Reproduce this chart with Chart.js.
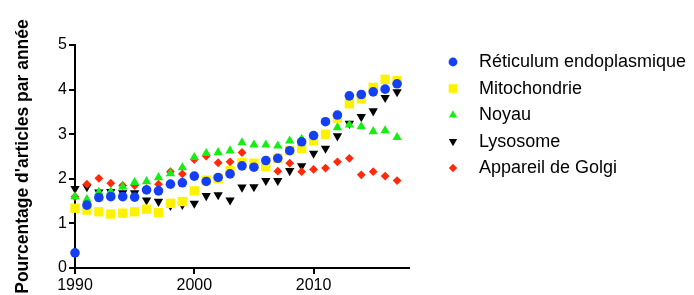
<!DOCTYPE html>
<html><head><meta charset="utf-8">
<script src="https://cdn.jsdelivr.net/npm/chart.js@4"></script>
<style>html,body{margin:0;padding:0;background:#fff;}canvas{display:block;}</style>
</head><body>
<canvas id="c" width="694" height="295"></canvas>
<script>
const years = [1990,1991,1992,1993,1994,1995,1996,1997,1998,1999,2000,2001,2002,2003,2004,2005,2006,2007,2008,2009,2010,2011,2012,2013,2014,2015,2016,2017];
const reticulum = [0.34,1.41,1.58,1.60,1.60,1.59,1.75,1.73,1.88,1.91,2.06,1.94,2.03,2.11,2.29,2.26,2.41,2.46,2.63,2.83,2.97,3.28,3.43,3.86,3.89,3.95,4.01,4.13];
const mitochondrie = [1.34,1.30,1.26,1.21,1.23,1.26,1.32,1.24,1.45,1.49,1.73,1.97,2.00,2.18,2.36,2.35,2.27,2.46,2.64,2.68,2.85,3.00,3.36,3.68,3.79,4.05,4.23,4.20];
const noyau = [1.60,1.54,1.70,1.71,1.82,1.92,1.94,2.03,2.12,2.25,2.48,2.57,2.59,2.63,2.81,2.76,2.76,2.74,2.85,2.89,2.95,2.97,3.15,3.21,3.17,3.06,3.08,2.93];
const lysosome = [1.78,1.82,1.70,1.71,1.68,1.68,1.52,1.49,1.40,1.42,1.45,1.62,1.64,1.52,1.81,1.82,1.96,1.96,2.18,2.29,2.57,2.68,2.96,3.24,3.39,3.52,3.82,3.95];
const golgi = [1.60,1.88,2.01,1.90,1.85,1.85,1.78,1.88,2.16,2.11,2.43,2.51,2.36,2.38,2.59,2.33,2.30,2.17,2.35,2.16,2.21,2.24,2.38,2.46,2.09,2.16,2.06,1.96];
const seriesNames = ["Réticulum endoplasmique","Mitochondrie","Noyau","Lysosome","Appareil de Golgi"];
const xTickValues = [1990,2000,2010];
const yTickValues = [0,1,2,3,4,5];
const yTitle = "Pourcentage d'articles par année";

const FONT = '"Liberation Sans", Arial, Helvetica, sans-serif';
const pts = arr => years.map((y,i)=>({x:y, y:arr[i]}));

const styles = [
  {color:'#1440f5', pointStyle:'circle', radius:4.8, rotation:0, order:0, legendR:4.4},
  {color:'#fff200', pointStyle:'rect', radius:6.6, rotation:0, order:1, legendR:6.1},
  {color:'#14ee14', pointStyle:'triangle', radius:5.4, rotation:0, order:2, legendR:4.8},
  {color:'#000000', pointStyle:'triangle', radius:5.4, rotation:180, order:4, legendR:4.8},
  {color:'#ff2a0a', pointStyle:'rectRot', radius:4.4, rotation:0, order:3, legendR:4.2}
];
const seriesData = [reticulum, mitochondrie, noyau, lysosome, golgi];

const datasets = seriesNames.map((name,i)=>({
  label: name,
  data: pts(seriesData[i]),
  showLine: false,
  backgroundColor: styles[i].color,
  borderColor: styles[i].color,
  pointBackgroundColor: styles[i].color,
  pointBorderColor: styles[i].color,
  pointBorderWidth: 0,
  pointStyle: styles[i].pointStyle,
  pointRotation: styles[i].rotation,
  pointRadius: styles[i].radius,
  pointHoverRadius: styles[i].radius,
  order: styles[i].order,
  clip: false
}));

const sideLegend = {
  id: 'sideLegend',
  afterDraw(chart) {
    const ctx = chart.ctx;
    ctx.save();
    chart.data.datasets.forEach((ds,i)=>{
      const y = 62 + i*26.5;
      ctx.fillStyle = ds.pointBackgroundColor;
      ctx.strokeStyle = ds.pointBackgroundColor;
      Chart.helpers.drawPoint(ctx, {pointStyle: ds.pointStyle, rotation: ds.pointRotation, radius: styles[i].legendR, borderWidth: 0}, 453, y);
      ctx.fillStyle = '#000';
      ctx.font = '18px ' + FONT;
      ctx.textBaseline = 'middle';
      ctx.textAlign = 'left';
      ctx.fillText(ds.label, 479, y + 0.5);
    });
    ctx.restore();
  }
};

new Chart(document.getElementById('c'), {
  type: 'scatter',
  data: { datasets },
  options: {
    responsive: false,
    animation: false,
    devicePixelRatio: 1,
    layout: { padding: { top: 45, right: 285, left: 0, bottom: 0 } },
    plugins: { legend: { display: false }, tooltip: { enabled: false } },
    scales: {
      x: {
        type: 'linear', min: 1990, max: 2018,
        afterBuildTicks(scale){ scale.ticks = xTickValues.map(v=>({value:v})); },
        afterFit(scale){ scale.height = 27; },
        grid: { display: true, drawOnChartArea: false, drawTicks: true, tickLength: 6, color: '#000', lineWidth: 2 },
        border: { display: true, color: '#000', width: 2 },
        ticks: { color: '#000', font: { family: FONT, size: 16 }, padding: 2, maxRotation: 0, callback: v => String(v) }
      },
      y: {
        type: 'linear', min: 0, max: 5,
        afterBuildTicks(scale){ scale.ticks = yTickValues.map(v=>({value:v})); },
        afterFit(scale){ scale.width = 75; },
        grid: { display: true, drawOnChartArea: false, drawTicks: true, tickLength: 6, color: '#000', lineWidth: 2 },
        border: { display: true, color: '#000', width: 2 },
        ticks: { color: '#000', font: { family: FONT, size: 16 }, padding: 2, callback: v => String(v) },
        title: { display: true, text: yTitle, color: '#000', font: { family: FONT, size: 17.5, weight: 'bold' }, padding: { top: 13, bottom: 0 } }
      }
    }
  },
  plugins: [sideLegend]
});
</script>
</body></html>
